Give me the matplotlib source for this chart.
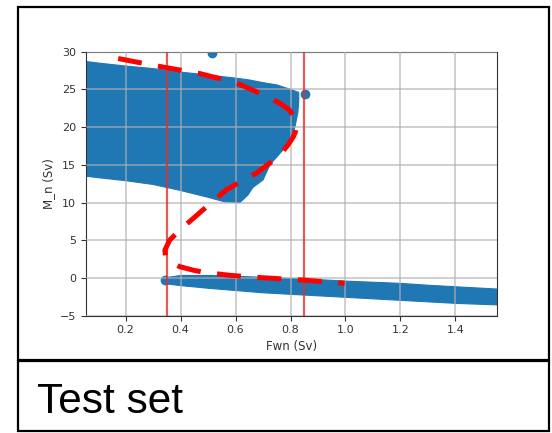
import numpy as np
import matplotlib.pyplot as plt
from matplotlib.patches import Rectangle

# Upper branch cloud (outline)
up_top_x = [0.055, 0.10, 0.20, 0.29, 0.40, 0.50, 0.60, 0.65, 0.70, 0.75, 0.80, 0.83]
up_top_y = [28.7, 28.5, 28.1, 27.8, 27.3, 26.9, 26.5, 26.25, 25.9, 25.6, 25.0, 24.6]
up_right_x = [0.83, 0.827, 0.816, 0.798, 0.761, 0.725, 0.70, 0.663, 0.645, 0.616]
up_right_y = [23.5, 22.0, 20.0, 18.0, 16.5, 15.0, 13.0, 12.0, 11.0, 10.0]
up_bot_x = [0.616, 0.56, 0.50, 0.40, 0.35, 0.30, 0.20, 0.10, 0.055]
up_bot_y = [10.0, 10.1, 10.7, 11.6, 12.0, 12.4, 12.9, 13.3, 13.5]

# Lower branch band
low_x = [0.343, 0.40, 0.50, 0.60, 0.70, 0.80, 0.90, 1.00, 1.10, 1.20, 1.30, 1.40, 1.55]
low_top = [0.1, 0.4, 0.4, 0.3, 0.15, 0.0, -0.15, -0.35, -0.5, -0.65, -0.9, -1.1, -1.4]
low_bot = [-0.7, -0.95, -1.3, -1.6, -1.9, -2.1, -2.3, -2.5, -2.7, -2.9, -3.1, -3.3, -3.5]

# a few isolated points
iso_x = [0.513, 0.852, 0.343]
iso_y = [29.8, 24.4, -0.3]

# red dashed S-curve (bifurcation diagram)
curve_x = [0.173, 0.30, 0.47, 0.60, 0.688, 0.76, 0.795, 0.816, 0.822, 0.818, 0.81, 0.79,
           0.761, 0.72, 0.676, 0.62, 0.567, 0.495, 0.397, 0.36, 0.343, 0.345, 0.36, 0.397,
           0.45, 0.495, 0.58, 0.676, 0.76, 0.846, 0.92, 0.997]
curve_y = [29.1, 28.2, 27.1, 25.9, 24.5, 23.2, 22.3, 21.2, 20.1, 19.4, 18.7, 17.6,
           16.3, 15.1, 13.9, 12.8, 11.7, 9.45, 6.35, 5.0, 3.7, 2.9, 2.2, 1.5,
           1.0, 0.7, 0.35, 0.08, -0.1, -0.28, -0.48, -0.7]

vlines = [0.35, 0.85]

fig = plt.figure(figsize=(5.52, 4.33), dpi=100)
ax = fig.add_axes([0.1553, 0.2709, 0.7445, 0.6097])

blue = '#1f77b4'
poly_x = up_top_x + up_right_x + up_bot_x
poly_y = up_top_y + up_right_y + up_bot_y
ax.fill(poly_x, poly_y, color=blue, lw=0.8, zorder=1)
ax.fill_between(low_x, low_bot, low_top, color=blue, lw=0.8, zorder=1)
ax.scatter(iso_x, iso_y, s=36, color=blue, zorder=1)

for v in vlines:
    ax.axvline(v, color='#e03030', alpha=0.8, lw=1.6, zorder=2.6)

ax.plot(curve_x, curve_y, color='red', lw=3.6, linestyle=(0, (4.8, 3.3)), zorder=3)

ax.set_xlim(0.055, 1.55)
ax.set_ylim(-5, 30)
ax.set_xticks([0.2, 0.4, 0.6, 0.8, 1.0, 1.2, 1.4])
ax.set_yticks([-5, 0, 5, 10, 15, 20, 25, 30])
ax.set_axisbelow(False)
ax.grid(True, color='#b0b0b0', alpha=0.7, lw=1.2)
ax.tick_params(labelsize=8, length=3.5, color='#333333', labelcolor='#333333')
for sp in ax.spines.values():
    sp.set_color('#333333')
ax.set_xlabel('Fwn (Sv)', fontsize=8.5, color='#333333', labelpad=3)
ax.set_ylabel('M_n (Sv)', fontsize=8.5, color='#333333', labelpad=3)

# slide boxes around the chart and caption
W, H = 552, 433
fig.add_artist(Rectangle((18 / W, 1 - 360 / H), 531 / W, 353 / H, transform=fig.transFigure,
                         fill=False, ec='black', lw=1.6))
fig.add_artist(Rectangle((18 / W, 1 - 431 / H), 531 / W, 70 / H, transform=fig.transFigure,
                         fill=False, ec='black', lw=1.6))
fig.text(37 / W, 1 - 413 / H, 'Test set', fontsize=30.5, family='Liberation Sans',
         ha='left', va='baseline')

fig.savefig('out.png', dpi=100)
